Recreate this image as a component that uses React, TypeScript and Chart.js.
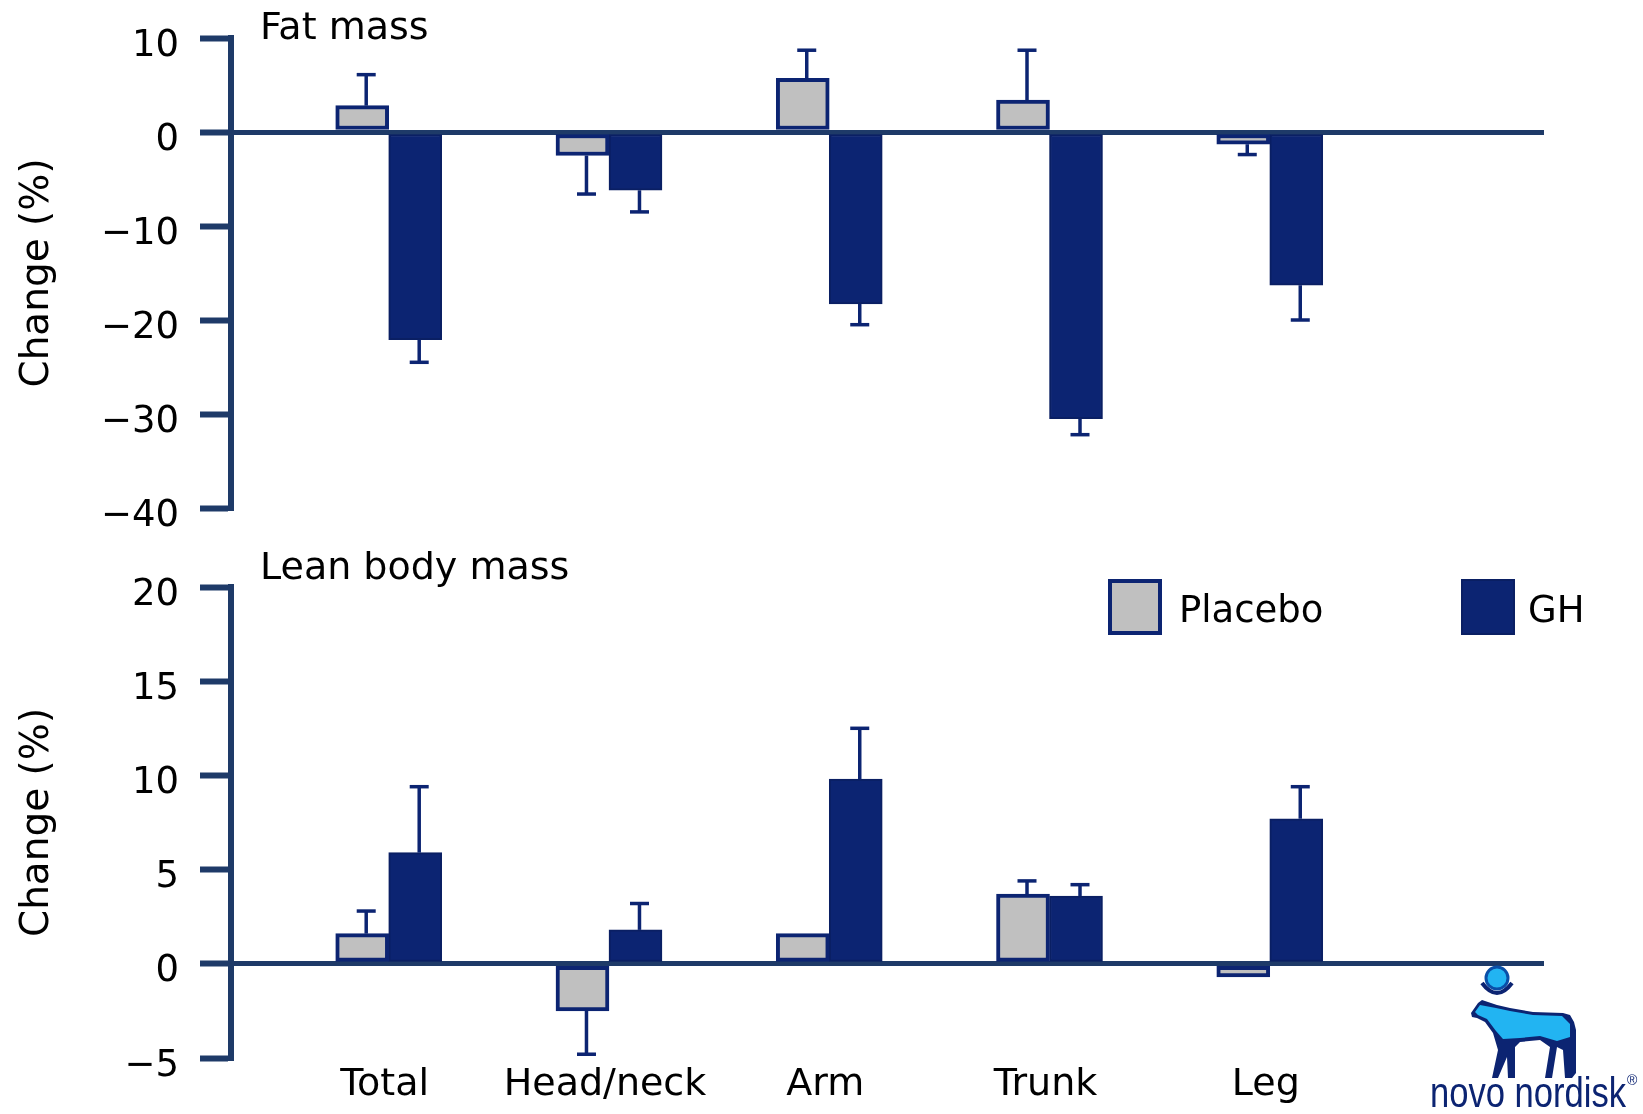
import React, { useEffect, useRef } from "react";
import { Chart, registerables } from "chart.js";

Chart.register(...registerables);

// ---------- data ----------
const categories = ["Total", "Head/neck", "Arm", "Trunk", "Leg"];
const seriesNames = ["Placebo", "GH"];

const fatPlacebo = [2.8, -2.5, 5.7, 3.4, -1.3];
const fatPlaceboErr = [3.3, 4.1, 3.0, 5.3, 1.1];
const fatGH = [-22.1, -6.2, -18.3, -30.5, -16.3];
const fatGHErr = [2.4, 2.3, 2.2, 1.7, 3.7];

const leanPlacebo = [1.6, -2.5, 1.6, 3.7, -0.7];
const leanPlaceboErr = [1.2, 2.3, 0, 0.7, 0];
const leanGH = [5.9, 1.8, 9.8, 3.6, 7.7];
const leanGHErr = [3.5, 1.4, 2.7, 0.6, 1.7];

const fatTicks = [10, 0, -10, -20, -30, -40];
const leanTicks = [20, 15, 10, 5, 0, -5];

const panelTitles = ["Fat mass", "Lean body mass"];
const yTitle = "Change (%)";

// ---------- styles ----------
const NAVY = "#0C2472";
const NAVY_DARK = "#0A1F63";
const AXIS = "#1E3A68";
const GRAY = "#C0C0C0";
const LOGO_BLUE = "#22B4F2";
const FONT = "'DejaVu Sans', Verdana, sans-serif";

Chart.defaults.font.family = FONT;

const errorBarPlugin = {
  id: "errorBars",
  afterDatasetsDraw(chart: any, _args: any, opts: any) {
    const ctx = chart.ctx;
    const yScale = chart.scales.y;
    chart.data.datasets.forEach((ds: any, di: number) => {
      const meta = chart.getDatasetMeta(di);
      ds.data.forEach((pt: any, i: number) => {
        const err = ds.errors ? ds.errors[i] : 0;
        if (!err) return;
        const bar: any = meta.data[i];
        const v = pt.y;
        const tip = v + (v >= 0 ? err : -err);
        const yTip = yScale.getPixelForValue(tip);
        const x = bar.x + opts.dx;
        ctx.save();
        ctx.strokeStyle = opts.color;
        ctx.lineWidth = opts.lineWidth;
        ctx.beginPath();
        ctx.moveTo(x, bar.y);
        ctx.lineTo(x, yTip);
        ctx.stroke();
        ctx.beginPath();
        ctx.moveTo(x - opts.capHalf, yTip);
        ctx.lineTo(x + opts.capHalf, yTip);
        ctx.stroke();
        ctx.restore();
      });
    });
  },
};

const panelDecorPlugin = {
  id: "panelDecor",
  afterDraw(chart: any, _args: any, opts: any) {
    const ctx = chart.ctx;
    ctx.save();
    ctx.textBaseline = "alphabetic";
    ctx.textAlign = "left";
    ctx.fillStyle = "#000";
    if (opts.title) {
      ctx.font = `${opts.titleSize}px ${FONT}`;
      ctx.fillText(opts.title.text, opts.title.x, opts.title.y);
    }
    if (opts.legend) {
      const lg = opts.legend;
      ctx.font = `${opts.legendSize}px ${FONT}`;
      chart.data.datasets.forEach((ds: any, i: number) => {
        const it = lg.items[i];
        ctx.fillStyle = ds.backgroundColor;
        ctx.fillRect(it.boxX, lg.boxY, lg.boxW, lg.boxH);
        ctx.strokeStyle = ds.borderColor;
        ctx.lineWidth = it.lw;
        ctx.strokeRect(it.boxX + it.lw / 2, lg.boxY + it.lw / 2, lg.boxW - it.lw, lg.boxH - it.lw);
        ctx.fillStyle = "#000";
        ctx.fillText(ds.label, it.textX, lg.baseline);
      });
    }
    ctx.restore();
  },
};

type Panel = {
  placebo: number[];
  placeboErr: number[];
  gh: number[];
  ghErr: number[];
  ticks: number[];
  showX: boolean;
  padding: any;
  xHeight: number;
  title: any;
  legend?: any;
};

function buildConfig(p: Panel): any {
  const toPts = (arr: number[]) => arr.map((v, i) => ({ x: i + 1, y: v }));
  return {
    type: "bar",
    data: {
      datasets: [
        {
          label: seriesNames[0],
          data: toPts(p.placebo),
          errors: p.placeboErr,
          backgroundColor: GRAY,
          borderColor: NAVY,
          borderWidth: 4,
          borderSkipped: false,
          barThickness: 53,
        },
        {
          label: seriesNames[1],
          data: toPts(p.gh),
          errors: p.ghErr,
          backgroundColor: NAVY,
          borderColor: NAVY_DARK,
          borderWidth: 2,
          borderSkipped: false,
          barThickness: 53,
        },
      ],
    },
    options: {
      animation: false,
      responsive: false,
      devicePixelRatio: 1,
      layout: { padding: p.padding },
      plugins: {
        legend: { display: false },
        tooltip: { enabled: false },
        errorBars: { color: NAVY, lineWidth: 3.5, capHalf: 9.5, dx: 4 },
        panelDecor: { titleSize: 38, legendSize: 37, title: p.title, legend: p.legend },
      },
      scales: {
        x: {
          type: "linear",
          min: 0.284,
          max: 6.245,
          offset: false,
          display: p.showX,
          grid: { display: false, drawTicks: false },
          border: { display: false },
          afterBuildTicks: (axis: any) => {
            axis.ticks = categories.map((_, i) => ({ value: i + 1 }));
          },
          afterFit: (scale: any) => {
            if (p.showX) scale.height = p.xHeight;
          },
          ticks: {
            autoSkip: false,
            maxRotation: 0,
            padding: 4,
            labelOffset: -4,
            color: "#000",
            font: { size: 38 },
            callback: (v: any) => categories[Math.round(v) - 1] ?? "",
          },
        },
        y: {
          type: "linear",
          min: Math.min(...p.ticks),
          max: Math.max(...p.ticks),
          afterBuildTicks: (axis: any) => {
            axis.ticks = p.ticks.map((v) => ({ value: v }));
          },
          afterFit: (scale: any) => {
            scale.width = 231;
          },
          border: { display: true, color: AXIS, width: 6 },
          grid: {
            drawOnChartArea: true,
            color: (c: any) => (c.tick && c.tick.value === 0 ? AXIS : "rgba(0,0,0,0)"),
            lineWidth: 5,
            drawTicks: true,
            tickLength: 31,
            tickWidth: 6,
            tickColor: AXIS,
          },
          ticks: {
            padding: 21,
            labelOffset: 8,
            color: "#000",
            font: { size: 37 },
            callback: (v: any) => String(v).replace("-", "\u2212"),
          },
          title: {
            display: true,
            text: yTitle,
            color: "#000",
            font: { size: 39 },
            padding: { top: 14, bottom: 0 },
          },
        },
      },
    },
    plugins: [errorBarPlugin, panelDecorPlugin],
  };
}

export default function App() {
  const topRef = useRef<HTMLCanvasElement>(null);
  const botRef = useRef<HTMLCanvasElement>(null);

  useEffect(() => {
    document.body.style.overflow = "hidden";
    const c1 = new Chart(
      topRef.current as HTMLCanvasElement,
      buildConfig({
        placebo: fatPlacebo,
        placeboErr: fatPlaceboErr,
        gh: fatGH,
        ghErr: fatGHErr,
        ticks: fatTicks,
        showX: false,
        padding: { left: 0, right: 99, top: 58, bottom: 52 },
        xHeight: 0,
        title: { text: panelTitles[0], x: 260, y: 59 },
      })
    );
    const c2 = new Chart(
      botRef.current as HTMLCanvasElement,
      buildConfig({
        placebo: leanPlacebo,
        placeboErr: leanPlaceboErr,
        gh: leanGH,
        ghErr: leanGHErr,
        ticks: leanTicks,
        showX: true,
        padding: { left: 0, right: 99, top: 57, bottom: 0 },
        xHeight: 56,
        title: { text: panelTitles[1], x: 260, y: 49 },
        legend: {
          boxY: 49,
          boxW: 54,
          boxH: 56,
          baseline: 92,
          items: [
            { boxX: 1108, textX: 1179, lw: 4 },
            { boxX: 1461, textX: 1528, lw: 2 },
          ],
        },
      })
    );
    return () => {
      c1.destroy();
      c2.destroy();
    };
  }, []);

  return (
    <div
      style={{
        position: "absolute",
        left: 0,
        top: 0,
        width: 1643,
        height: 1114,
        background: "#fff",
        overflow: "hidden",
      }}
    >
      <canvas
        ref={topRef}
        width={1643}
        height={580}
        style={{ position: "absolute", left: 0, top: -20, display: "block" }}
      />
      <canvas
        ref={botRef}
        width={1643}
        height={584}
        style={{ position: "absolute", left: 0, top: 530, display: "block" }}
      />
      <svg
        width={1643}
        height={1114}
        style={{ position: "absolute", left: 0, top: 0, pointerEvents: "none" }}
      >
        {/* logo: sun disc, crescent, bull */}
        <circle cx={1497} cy={978} r={11} fill={LOGO_BLUE} stroke="#0A4FA8" strokeWidth={3} />
        <path d="M1482,983 Q1497,1003 1512,983" stroke={NAVY} strokeWidth={4} fill="none" />
        <path
          d="M1471,1013 L1478,1003 L1482,1000 L1497,1005 L1510,1008 L1533,1012 L1563,1013 L1570,1015 L1574,1022 L1576,1030 L1576,1073 L1572,1078 L1565,1078 L1563,1050 L1557,1047 L1552,1078 L1545,1078 L1550,1047 L1540,1040 L1520,1042 L1515,1047 L1515,1078 L1508,1078 L1507,1057 L1498,1078 L1492,1078 L1498,1050 L1493,1033 L1485,1022 L1477,1018 L1472,1017 Z"
          fill={NAVY}
          strokeLinejoin="round"
        />
        <path
          d="M1475,1012 L1480,1005 L1496,1008 L1510,1011 L1533,1015 L1562,1016 L1570,1024 L1570,1037 L1557,1041 L1540,1036 L1520,1038 L1503,1039 L1496,1031 L1487,1019 L1478,1015 Z"
          fill={LOGO_BLUE}
        />
        <text
          x={1430}
          y={1107}
          fontFamily="'Liberation Sans Narrow', 'Liberation Sans', sans-serif"
          fontSize={42}
          fill={NAVY}
          textLength={196}
          lengthAdjust="spacingAndGlyphs"
        >
          novo nordisk
        </text>
        <text x={1627} y={1085} fontFamily="'Liberation Sans', sans-serif" fontSize={14} fill={NAVY}>
          ®
        </text>
      </svg>
    </div>
  );
}
